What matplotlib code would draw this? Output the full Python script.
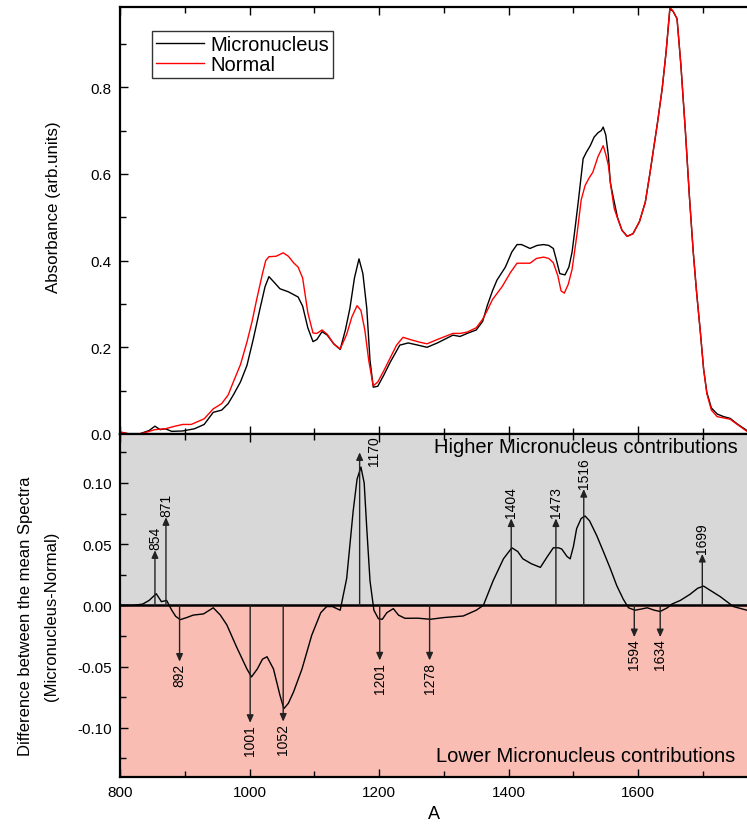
import numpy as np
import matplotlib
matplotlib.use("Agg")
import matplotlib.pyplot as plt
from matplotlib.ticker import MultipleLocator, FormatStrFormatter

plt.rcParams['font.family'] = ['Liberation Sans', 'DejaVu Sans']
plt.rcParams['axes.unicode_minus'] = False

# mean spectra (top panel)
wn_mn = [800, 815, 830, 845, 854, 862, 870, 880, 897, 915, 930, 944, 957, 967, 975,
         986, 996, 1006, 1016, 1024, 1030, 1038, 1047, 1060, 1075, 1082, 1090, 1098,
         1104, 1112, 1120, 1130, 1140, 1148, 1155, 1162, 1169, 1175, 1181, 1186, 1191,
         1198, 1207, 1217, 1232, 1245, 1260, 1274, 1290, 1314, 1325, 1336, 1350, 1360,
         1367, 1375, 1382, 1395, 1405, 1413, 1420, 1433, 1444, 1454, 1462, 1469, 1474,
         1479, 1487, 1493, 1498, 1503, 1508, 1515, 1520, 1526, 1532, 1538, 1543, 1546,
         1550, 1554, 1557, 1561, 1568, 1575, 1583, 1592, 1602, 1611, 1618, 1623, 1630,
         1637, 1643, 1649, 1654, 1660, 1666, 1673, 1679, 1685, 1690, 1696, 1701, 1706,
         1713, 1722, 1732, 1742, 1753, 1768]
micronucleus = [0.003, 0.0, 0.0, 0.008, 0.018, 0.01, 0.012, 0.006, 0.007, 0.012, 0.022,
                0.05, 0.055, 0.07, 0.09, 0.12, 0.158, 0.22, 0.288, 0.34, 0.363, 0.35,
                0.335, 0.328, 0.316, 0.295, 0.245, 0.213, 0.218, 0.236, 0.228, 0.208,
                0.195, 0.24, 0.29, 0.36, 0.404, 0.37, 0.29, 0.17, 0.108, 0.11, 0.135,
                0.165, 0.205, 0.21, 0.205, 0.2, 0.21, 0.228, 0.225, 0.232, 0.24, 0.26,
                0.296, 0.33, 0.355, 0.385, 0.42, 0.437, 0.437, 0.428, 0.435, 0.437,
                0.435, 0.428, 0.4, 0.37, 0.367, 0.385, 0.42, 0.48, 0.542, 0.635, 0.65,
                0.665, 0.685, 0.695, 0.7, 0.708, 0.69, 0.642, 0.58, 0.55, 0.5, 0.47,
                0.456, 0.462, 0.49, 0.535, 0.6, 0.65, 0.72, 0.796, 0.88, 0.981, 0.975,
                0.958, 0.85, 0.696, 0.55, 0.42, 0.33, 0.235, 0.15, 0.096, 0.06, 0.046,
                0.04, 0.036, 0.023, 0.008]

wn_nr = [800, 815, 830, 845, 854, 870, 885, 897, 910, 930, 944, 957, 967, 975, 986,
         996, 1004, 1011, 1020, 1025, 1030, 1041, 1052, 1060, 1068, 1075, 1082, 1090,
         1098, 1104, 1112, 1120, 1130, 1140, 1150, 1158, 1166, 1172, 1178, 1184, 1191,
         1198, 1207, 1217, 1227, 1237, 1250, 1262, 1274, 1290, 1314, 1325, 1336, 1350,
         1360, 1367, 1375, 1390, 1403, 1413, 1423, 1433, 1443, 1454, 1462, 1469, 1476,
         1481, 1486, 1492, 1498, 1506, 1512, 1518, 1524, 1530, 1538, 1546, 1550, 1554,
         1558, 1563, 1570, 1575, 1583, 1592, 1602, 1611, 1618, 1623, 1630, 1637, 1643,
         1649, 1654, 1660, 1666, 1673, 1679, 1685, 1690, 1696, 1701, 1706, 1713, 1722,
         1732, 1742, 1753, 1768]
normal = [0.005, 0.0, 0.0, 0.006, 0.01, 0.012, 0.018, 0.022, 0.022, 0.035, 0.058, 0.07,
          0.09, 0.12, 0.16, 0.212, 0.26, 0.31, 0.37, 0.4, 0.409, 0.41, 0.418, 0.41,
          0.395, 0.385, 0.36, 0.28, 0.233, 0.232, 0.24, 0.23, 0.208, 0.196, 0.23, 0.27,
          0.296, 0.285, 0.24, 0.17, 0.111, 0.12, 0.145, 0.175, 0.205, 0.223, 0.217,
          0.212, 0.208, 0.218, 0.232, 0.232, 0.235, 0.245, 0.265, 0.285, 0.31, 0.34,
          0.373, 0.394, 0.394, 0.394, 0.405, 0.408, 0.405, 0.395, 0.365, 0.33, 0.325,
          0.345, 0.38, 0.466, 0.54, 0.573, 0.59, 0.604, 0.64, 0.665, 0.645, 0.62, 0.57,
          0.52, 0.49, 0.47, 0.456, 0.462, 0.49, 0.535, 0.6, 0.65, 0.72, 0.796, 0.88,
          0.985, 0.975, 0.958, 0.85, 0.696, 0.55, 0.42, 0.33, 0.235, 0.15, 0.093,
          0.055, 0.04, 0.037, 0.034, 0.022, 0.006]

# difference spectrum (bottom panel)
wn_diff = [800, 820, 835, 845, 856, 864, 872, 880, 886, 893, 903, 913, 929, 944, 955,
           965, 980, 996, 1003, 1012, 1020, 1027, 1037, 1047, 1053, 1060, 1068, 1081,
           1096, 1110, 1119, 1128, 1140, 1150, 1160, 1166, 1172, 1177, 1181, 1186, 1192,
           1199, 1205, 1212, 1222, 1230, 1240, 1260, 1279, 1300, 1330, 1350, 1361, 1370,
           1376, 1392, 1405, 1414, 1422, 1435, 1449, 1460, 1469, 1477, 1482, 1490, 1495,
           1500, 1505, 1512, 1518, 1525, 1536, 1547, 1557, 1567, 1577, 1585, 1595, 1605,
           1614, 1625, 1634, 1645, 1652, 1665, 1680, 1692, 1701, 1712, 1727, 1747, 1768]
difference = [0.0, 0.0, 0.001, 0.004, 0.0095, 0.003, 0.004, -0.004, -0.009, -0.0117,
              -0.01, -0.008, -0.007, -0.002, -0.008, -0.016, -0.034, -0.052, -0.0585,
              -0.052, -0.044, -0.042, -0.052, -0.0735, -0.0844, -0.08, -0.0707, -0.052,
              -0.0245, -0.006, -0.001, -0.001, -0.004, 0.022, 0.077, 0.103, 0.113, 0.1,
              0.063, 0.02, -0.004, -0.011, -0.0114, -0.006, -0.0027, -0.008, -0.0106,
              -0.0105, -0.0114, -0.01, -0.0087, -0.004, 0.0, 0.012, 0.02, 0.038, 0.047,
              0.044, 0.038, 0.034, 0.031, 0.04, 0.047, 0.047, 0.046, 0.04, 0.038, 0.048,
              0.0627, 0.071, 0.073, 0.069, 0.057, 0.043, 0.03, 0.016, 0.005, -0.002,
              -0.004, -0.003, -0.002, -0.004, -0.005, -0.002, 0.001, 0.004, 0.009, 0.014,
              0.0157, 0.012, 0.007, -0.001, -0.004]

# marked bands: label, arrow tip
up_bands = [854, 871, 1170, 1404, 1473, 1516, 1699]
up_tips = [0.045, 0.072, 0.125, 0.071, 0.071, 0.095, 0.042]
down_bands = [892, 1001, 1052, 1201, 1278, 1594, 1634]
down_tips = [-0.046, -0.096, -0.095, -0.045, -0.045, -0.026, -0.026]

fig = plt.figure(figsize=(7.47, 8.29), dpi=100)
ax1 = fig.add_axes([0.1606, 0.4753, 0.8394, 0.515])
ax2 = fig.add_axes([0.1606, 0.0619, 0.8394, 0.4134])

ax1.plot(wn_mn, micronucleus, color='black', lw=1.0, label='Micronucleus')
ax1.plot(wn_nr, normal, color='red', lw=1.0, label='Normal')
ax1.set_xlim(800, 1768)
ax1.set_ylim(0, 0.985)
ax1.yaxis.set_major_locator(MultipleLocator(0.2))
ax1.yaxis.set_minor_locator(MultipleLocator(0.1))
ax1.yaxis.set_major_formatter(FormatStrFormatter('%.1f'))
ax1.xaxis.set_major_locator(MultipleLocator(200))
ax1.xaxis.set_minor_locator(MultipleLocator(100))
ax1.tick_params(axis='x', labelbottom=False)
ax1.set_ylabel('Absorbance (arb.units)', fontsize=12.2)
ax1.yaxis.set_label_coords(-0.094, 0.534)
leg = ax1.legend(loc='upper left', bbox_to_anchor=(0.051, 0.944), borderaxespad=0,
                 fancybox=False, edgecolor='black', fontsize=14.5, handlelength=2.4,
                 handletextpad=0.3, labelspacing=0.05, borderpad=0.2)
leg.get_frame().set_linewidth(1.0)

ax2.axhspan(0, 0.14, color='#d8d8d8', zorder=0)
ax2.axhspan(-0.14, 0, color='#f9bdb4', zorder=0)
ax2.axhline(0, color='black', lw=1.8, zorder=3)
ax2.plot(wn_diff, difference, color='black', lw=1.0, zorder=4)
ax2.set_xlim(800, 1768)
ax2.set_ylim(-0.14, 0.14)
ax2.yaxis.set_major_locator(MultipleLocator(0.05))
ax2.yaxis.set_minor_locator(MultipleLocator(0.025))
ax2.yaxis.set_major_formatter(FormatStrFormatter('%.2f'))
ax2.xaxis.set_major_locator(MultipleLocator(200))
ax2.xaxis.set_minor_locator(MultipleLocator(100))
ax2.set_xlabel('A', fontsize=13)
ax2.set_ylabel('Difference between the mean Spectra\n(Micronucleus-Normal)',
               fontsize=12, linespacing=1.95)
ax2.yaxis.set_label_coords(-0.097, 0.47)

narrow = ['Liberation Sans Narrow', 'Liberation Sans', 'DejaVu Sans']
aprops = dict(arrowstyle='-|>,head_length=0.45,head_width=0.2', color='#222222',
              lw=1.0, shrinkA=0, shrinkB=0)
for b, t in zip(up_bands, up_tips):
    ax2.annotate('', xy=(b, t), xytext=(b, 0), arrowprops=aprops, zorder=5)
    if b == 1170:
        ax2.text(b + 22, 0.139, str(b), rotation=90, ha='center', va='top',
                 fontsize=10, family=narrow)
    else:
        ax2.text(b, t + 0.001, str(b), rotation=90, ha='center', va='bottom',
                 fontsize=10, family=narrow)
for b, t in zip(down_bands, down_tips):
    ax2.annotate('', xy=(b, t), xytext=(b, 0), arrowprops=aprops, zorder=5)
    ax2.text(b, t - 0.001, str(b), rotation=90, ha='center', va='top',
             fontsize=10, family=narrow)

ax2.text(0.9856, 0.962, 'Higher Micronucleus contributions', transform=ax2.transAxes,
         ha='right', va='center', fontsize=14.5)
ax2.text(0.981, 0.063, 'Lower Micronucleus contributions', transform=ax2.transAxes,
         ha='right', va='center', fontsize=14.5)

for ax in (ax1, ax2):
    ax.spines['right'].set_visible(False)
    for s in ('left', 'top', 'bottom'):
        ax.spines[s].set_linewidth(1.6)
    ax.tick_params(which='both', direction='in', top=True, right=False, width=1.0,
                   labelsize=11, pad=6)
    ax.tick_params(which='major', length=6)
    ax.tick_params(which='minor', length=4)

fig.savefig('out.png', dpi=100)
